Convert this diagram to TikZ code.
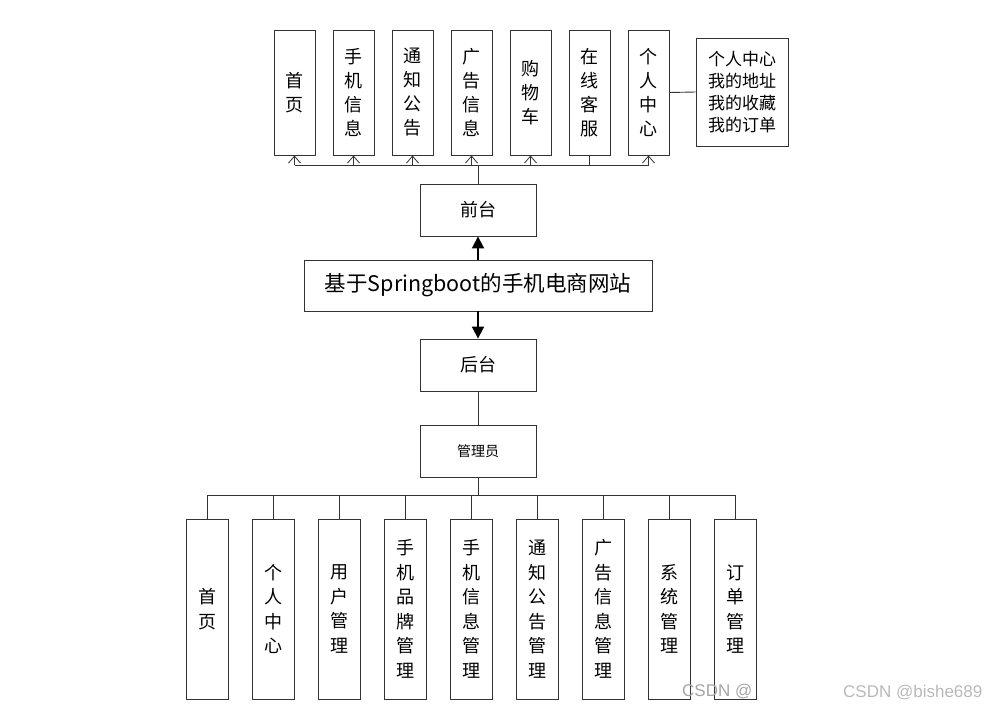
\documentclass[tikz,border=0pt]{standalone}
\usepackage{fontspec}
\setmainfont{Noto Sans CJK SC}
\newfontfamily\wmfont{Liberation Sans}
\usetikzlibrary{arrows.meta}
\definecolor{edge}{HTML}{333333}
\tikzset{
  box/.style={draw=edge, line width=0.9pt, fill=white, inner sep=0pt, align=center},
  tall/.style={box, minimum width=41pt, minimum height=125pt, font=\fontsize{18}{24}\selectfont},
  low/.style={box, minimum width=42pt, minimum height=180pt, font=\fontsize{18}{24.5}\selectfont},
  mid/.style={box, minimum width=116pt, minimum height=52pt, font=\fontsize{18}{22}\selectfont},
  wire/.style={draw=edge, line width=0.9pt},
  openarr/.style={wire, -{Straight Barb[length=7pt,width=12pt,line width=0.8pt]}},
  bigarr/.style={draw=black, line width=2pt, -{Triangle[length=12pt,width=12pt]}},
  wm/.style={text=gray!70, font=\wmfont\fontsize{17}{17}\selectfont, inner sep=0pt}
}
\begin{document}
\begin{tikzpicture}[x=1pt,y=-1pt]
\useasboundingbox (0,0) rectangle (995,712);
% top row
\node[tall] (t1) at (294.5,92.5) {首\\页};
\node[tall] (t2) at (353.5,92.5) {手\\机\\信\\息};
\node[tall] (t3) at (412.5,92.5) {通\\知\\公\\告};
\node[tall] (t4) at (471.5,92.5) {广\\告\\信\\息};
\node[tall] (t5) at (530.5,92.5) {购\\物\\车};
\node[tall] (t6) at (589.5,92.5) {在\\线\\客\\服};
\node[tall] (t7) at (648.5,92.5) {个\\人\\中\\心};
\node[box, minimum width=92pt, minimum height=108pt, font=\fontsize{17}{22}\selectfont] (tr) at (742,92) {个人中心\\我的地址\\我的收藏\\我的订单};
\draw[wire] (t7.east) -- (tr.west);
% middle
\node[mid] (qt) at (478,210) {前台};
\node[box, minimum width=348pt, minimum height=51pt, font=\fontsize{21.5}{24}\selectfont] (main) at (478,285.5) {基于Springboot的手机电商网站};
\node[mid] (ht) at (478,365) {后台};
\node[mid, font=\fontsize{14}{16}\selectfont] (gly) at (478,451) {管理员};
\draw[bigarr] (main.north) -- (qt.south);
\draw[bigarr] (main.south) -- (ht.north);
\draw[wire] (ht.south) -- (gly.north);
% top bus
\coordinate (bus) at (478,165);
\draw[wire] (qt.north) -- (bus);
\draw[wire] (t1.south |- bus) -- (t7.south |- bus);
\foreach \i in {1,2,3,4,5,7} {\draw[openarr] (t\i.south |- bus) -- (t\i.south);}
\draw[wire] (t6.south |- bus) -- (t6.south);
% bottom row
\node[low] (b1) at (207,609) {首\\页};
\node[low] (b2) at (273,609) {个\\人\\中\\心};
\node[low] (b3) at (339,609) {用\\户\\管\\理};
\node[low] (b4) at (405,609) {手\\机\\品\\牌\\管\\理};
\node[low] (b5) at (471,609) {手\\机\\信\\息\\管\\理};
\node[low] (b6) at (537,609) {通\\知\\公\\告\\管\\理};
\node[low] (b7) at (603,609) {广\\告\\信\\息\\管\\理};
\node[low] (b8) at (669,609) {系\\统\\管\\理};
\node[low] (b9) at (735,609) {订\\单\\管\\理};
\coordinate (bbus) at (478,495);
\draw[wire] (gly.south) -- (bbus);
\draw[wire] (b1.north |- bbus) -- (b9.north |- bbus);
\foreach \i in {1,...,9} {\draw[wire] (b\i.north |- bbus) -- (b\i.north);}
% watermarks
\node[wm, anchor=west] (wm1) at (682,692) {CSDN @};
\node[wm, anchor=west, text=gray!55] (wm2) at (843,693) {CSDN @bishe689};
\end{tikzpicture}
\end{document}
